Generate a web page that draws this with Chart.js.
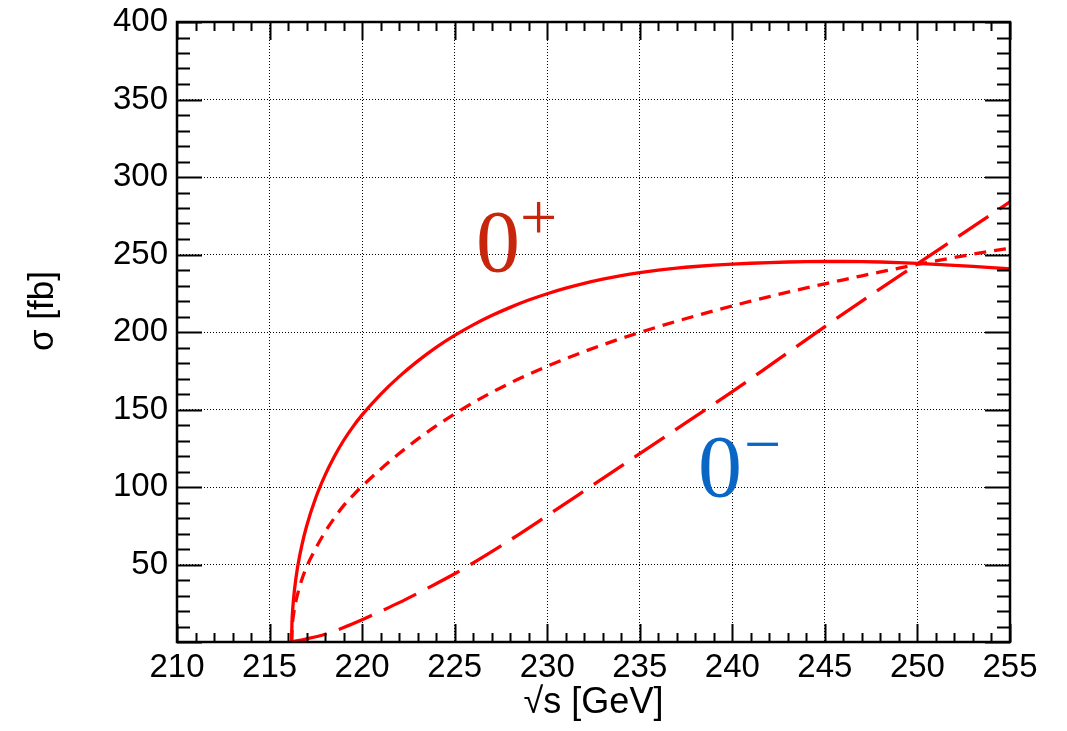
<!DOCTYPE html>
<html>
<head>
<meta charset="utf-8">
<script src="https://cdn.jsdelivr.net/npm/chart.js@4.4.1/dist/chart.umd.min.js"></script>
<style>
  html, body { margin: 0; padding: 0; background: #fff; }
  canvas { display: block; }
</style>
</head>
<body>
<canvas id="xsec" width="1067" height="731"></canvas>
<script>
// Cross section vs centre-of-mass energy, three coupling hypotheses

// shared 1 GeV grid above 220 GeV
const sqrtS_hi = [220, 221, 222, 223, 224, 225, 226, 227, 228, 229, 230, 231, 232, 233, 234, 235,
                  236, 237, 238, 239, 240, 241, 242, 243, 244, 245, 246, 247, 248, 249, 250,
                  251, 252, 253, 254, 255];

// 0+ (solid)
const sqrtS_plus_lo = [216.19, 216.21, 216.25, 216.35, 216.5, 216.75, 217, 217.5, 218, 218.5, 219, 219.5];
const sigma_plus_lo = [0, 12, 21, 34, 47.2, 62.7, 74.7, 93.2, 107.7, 119.7, 130, 138.8];
const sigma_plus_hi = [146.5, 159.8, 171.2, 181.2, 190.1, 197.8, 204.6, 210.6, 215.9, 220.6, 224.7,
                       228.3, 231.4, 234.1, 236.4, 238.3, 239.9, 241.2, 242.25, 243.1, 243.8,
                       244.35, 244.8, 245.15, 245.4, 245.5, 245.5, 245.4, 245.15, 244.75, 244.25,
                       243.65, 243.0, 242.3, 241.55, 240.75];

// mixed (short dashes)
const sqrtS_mix_lo = [216.19, 216.23, 216.3, 216.4, 216.55, 216.75, 217, 217.5, 218, 218.5, 219, 219.5];
const sigma_mix_lo = [0, 11, 18, 25, 32.5, 40.5, 48.5, 60.5, 71, 80, 88, 94.5];
const sigma_mix_hi = [100.5, 111.5, 121.6, 130.9, 139.4, 147.2, 154.4, 161.0, 167.1, 172.7, 177.9,
                      182.8, 187.4, 191.75, 195.85, 199.7, 203.4, 206.95, 210.35, 213.65, 216.85,
                      219.9, 222.85, 225.7, 228.45, 231.1, 233.7, 236.25, 238.75, 241.2, 243.6,
                      245.9, 248.1, 250.2, 252.2, 254.1];

// 0- (long dashes)
const sqrtS_minus = [216.19, 217, 218, 219, 220, 221, 222, 223, 224, 225, 227.5, 230,
                     232.5, 235, 237.5, 240, 242.5, 245, 247.5, 250, 252.5, 255];
const sigma_minus = [0, 2, 5, 9.3, 14.3, 19.8, 25.4, 31.4, 37.6, 44, 62, 81.5,
                     101.5, 121.5, 141.5, 161.5, 182.5, 203.5, 224, 244, 264, 284];

const xTicks = [210, 215, 220, 225, 230, 235, 240, 245, 250, 255];
const yTicks = [0, 50, 100, 150, 200, 250, 300, 350, 400];

const SANS  = "'Liberation Sans', Arial, Helvetica, sans-serif";
const SERIF = "'Liberation Serif', 'Times New Roman', serif";

function pts(xs, ys) {
  return xs.map((x, i) => ({ x, y: ys[i] }));
}

function curve(data, dash) {
  return {
    data,
    borderColor: "#ff0000",
    borderWidth: 3.3,
    borderDash: dash,
    pointRadius: 0,
    fill: false,
    cubicInterpolationMode: "monotone",
  };
}

// ROOT-style frame: solid box + inward ticks on all four sides
const frameTicks = {
  id: "frameTicks",
  afterDraw(chart) {
    const { ctx, chartArea: a, scales: { x, y } } = chart;
    ctx.save();
    ctx.strokeStyle = "#000";
    ctx.lineWidth = 2;
    ctx.beginPath();
    for (let v = x.min; v <= x.max + 1e-6; v += 1) {
      const px = Math.round(x.getPixelForValue(v)) + 0.5;
      const len = v % 5 === 0 ? 18 : 9;
      ctx.moveTo(px, a.bottom); ctx.lineTo(px, a.bottom - len);
      ctx.moveTo(px, a.top);    ctx.lineTo(px, a.top + len);
    }
    for (let v = y.min; v <= y.max + 1e-6; v += 10) {
      const py = Math.round(y.getPixelForValue(v)) + 0.5;
      const len = v % 50 === 0 ? 25 : 13;
      ctx.moveTo(a.left, py);  ctx.lineTo(a.left + len, py);
      ctx.moveTo(a.right, py); ctx.lineTo(a.right - len, py);
    }
    ctx.stroke();
    ctx.lineWidth = 2.5;
    ctx.strokeRect(a.left, a.top, a.right - a.left, a.bottom - a.top);
    ctx.restore();
  },
};

// axis titles and the 0+ / 0- annotations
const labels = {
  id: "labels",
  afterDraw(chart) {
    const { ctx, chartArea: a } = chart;
    ctx.save();
    ctx.fillStyle = "#000";
    ctx.font = "36px " + SANS;
    ctx.textAlign = "center";
    ctx.textBaseline = "alphabetic";
    ctx.fillText("√s [GeV]", (a.left + a.right) / 2, 713);

    ctx.save();
    ctx.translate(43, 311);
    ctx.rotate(-Math.PI / 2);
    ctx.textBaseline = "middle";
    ctx.font = "35px " + SANS;
    ctx.fillText("σ [fb]", 0, 0);
    ctx.restore();

    ctx.textAlign = "left";
    ctx.fillStyle = "#c8260c";
    ctx.font = "88px " + SERIF;
    ctx.fillText("0", 476, 271);
    ctx.font = "66px " + SERIF;
    ctx.fillText("+", 520, 239);

    ctx.fillStyle = "#0a66c4";
    ctx.font = "88px " + SERIF;
    ctx.fillText("0", 698, 496);
    ctx.font = "66px " + SERIF;
    ctx.fillText("\u2212", 744, 466);
    ctx.restore();
  },
};

const edgeless = (lo, hi) => (c) =>
  (c.tick && (c.tick.value === lo || c.tick.value === hi)) ? "rgba(0,0,0,0)" : "#000";

new Chart(document.getElementById("xsec"), {
  type: "line",
  data: {
    datasets: [
      curve(pts(sqrtS_plus_lo.concat(sqrtS_hi), sigma_plus_lo.concat(sigma_plus_hi)), []),
      curve(pts(sqrtS_mix_lo.concat(sqrtS_hi), sigma_mix_lo.concat(sigma_mix_hi)), [12, 8]),
      curve(pts(sqrtS_minus, sigma_minus), [36, 13]),
    ],
  },
  options: {
    responsive: false,
    animation: false,
    layout: { padding: { top: 22, right: 57, left: 0, bottom: 0 } },
    plugins: { legend: { display: false }, tooltip: { enabled: false } },
    scales: {
      x: {
        type: "linear",
        min: 210, max: 255,
        afterBuildTicks: (s) => { s.ticks = xTicks.map(v => ({ value: v })); },
        afterFit: (s) => { s.height = 89; s.paddingLeft = 0; s.paddingRight = 0; },
        grid: { color: edgeless(210, 255), lineWidth: 1, drawTicks: false },
        border: { display: false, dash: [1, 2] },
        ticks: {
          autoSkip: false, maxRotation: 0, padding: 6,
          color: "#000", font: { family: SANS, size: 33 },
        },
      },
      y: {
        type: "linear",
        min: 0, max: 400,
        afterBuildTicks: (s) => { s.ticks = yTicks.map(v => ({ value: v })); },
        afterFit: (s) => { s.width = 177; s.paddingTop = 0; s.paddingBottom = 0; },
        grid: { color: edgeless(0, 400), lineWidth: 1, drawTicks: false },
        border: { display: false, dash: [1, 2] },
        ticks: {
          padding: 9, color: "#000", font: { family: SANS, size: 33 },
          callback: (v) => (v === 0 ? "" : String(v)),
        },
      },
    },
  },
  plugins: [frameTicks, labels],
});
</script>
</body>
</html>
